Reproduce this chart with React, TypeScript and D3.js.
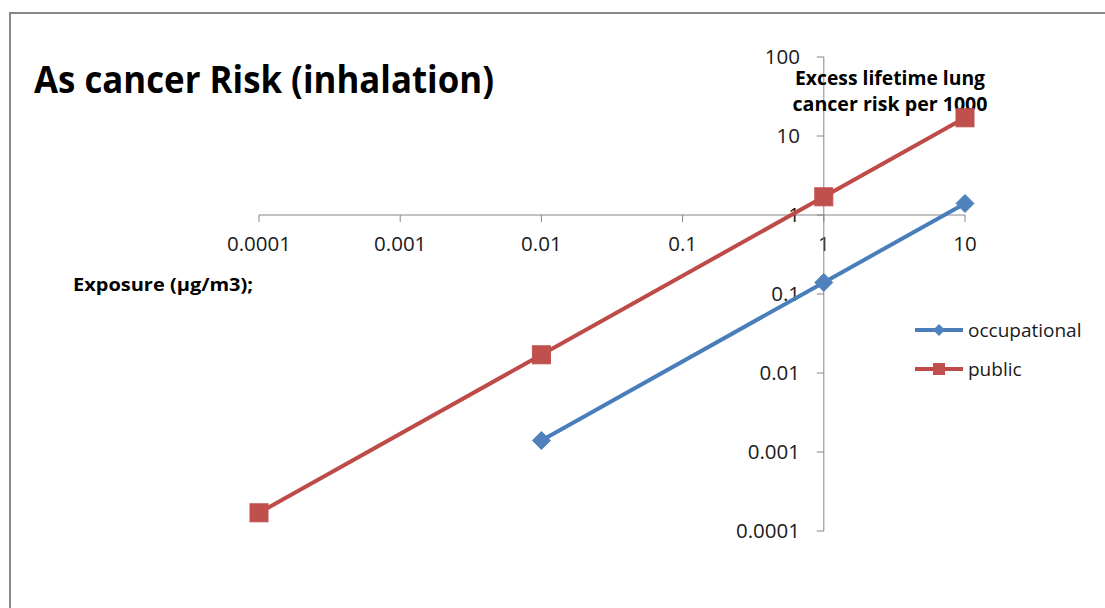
import React from 'react'
import * as d3 from 'd3'

// exposure (µg/m3) and excess lifetime lung cancer risk per 1000
const occupationalX = [0.01, 1, 10]
const occupationalY = [0.0014, 0.14, 1.4]
const publicX = [0.0001, 0.01, 1, 10]
const publicY = [0.00017, 0.017, 1.7, 17]

const xTicks = [0.0001, 0.001, 0.01, 0.1, 1, 10]
const yTicks = [0.0001, 0.001, 0.01, 0.1, 1, 10, 100]
const seriesNames = ['occupational', 'public']

const width = 1105
const height = 608
const font = '"Open Sans", "Liberation Sans", sans-serif'
const axisColor = '#868686'
const blue = '#4A7EBB'
const blueMarker = '#4F81BD'
const red = '#BE4B48'
const redMarker = '#C0504D'

export default function App() {
  const x = d3.scaleLog().domain([0.0001, 10]).range([259, 965])
  const y = d3.scaleLog().domain([0.0001, 100]).range([531, 57])

  const line = d3.line<[number, number]>()
    .x(d => x(d[0]))
    .y(d => y(d[1]))

  const occ: [number, number][] = occupationalX.map((v, i) => [v, occupationalY[i]])
  const pub: [number, number][] = publicX.map((v, i) => [v, publicY[i]])

  const x0 = x(1)
  const y0 = y(1)
  const fmt = (v: number) => String(+v.toPrecision(1))

  const diamond = (cx: number, cy: number, r: number) =>
    `M${cx},${cy - r}L${cx + r},${cy}L${cx},${cy + r}L${cx - r},${cy}Z`

  return (
    <svg width={width} height={height}
      style={{ position: 'absolute', left: 0, top: 0, background: '#fff' }}>
      <rect x={10} y={13} width={width} height={height} fill="#fff" stroke="#878787" strokeWidth={2} />

      <text x={34} y={93} fontFamily={font} fontWeight="bold" fontSize={38}
        textLength={460} lengthAdjust="spacingAndGlyphs" fill="#000">As cancer Risk (inhalation)</text>

      {/* x axis, drawn at y = 1 */}
      <g>
        <line x1={x(0.0001)} x2={x(10)} y1={y0} y2={y0} stroke={axisColor} />
        {xTicks.map(t => (
          <g key={'xt' + t}>
            <line x1={x(t)} x2={x(t)} y1={y0} y2={y0 + 7} stroke={axisColor} />
            <text x={x(t)} y={251} textAnchor="middle" fontFamily={font} fontSize={20.5} fill="#1a1a1a">{fmt(t)}</text>
          </g>
        ))}
      </g>

      {/* y axis, drawn at x = 1 */}
      <g>
        <line x1={x0} x2={x0} y1={y(0.0001)} y2={y(100)} stroke={axisColor} />
        {yTicks.map(t => (
          <g key={'yt' + t}>
            <line x1={x0 - 7} x2={x0} y1={y(t)} y2={y(t)} stroke={axisColor} />
            <text x={800} y={y(t)} dy="0.35em" textAnchor="end" fontFamily={font} fontSize={20.5} fill="#1a1a1a">{fmt(t)}</text>
          </g>
        ))}
      </g>

      <text x={73} y={291} fontFamily={font} fontWeight="bold" fontSize={18}
        textLength={180} lengthAdjust="spacingAndGlyphs" fill="#000">Exposure (µg/m3);</text>
      <text x={890} y={85} textAnchor="middle" fontFamily={font} fontWeight="bold" fontSize={19}
        textLength={190} lengthAdjust="spacingAndGlyphs" fill="#000">Excess lifetime lung</text>
      <text x={890} y={111} textAnchor="middle" fontFamily={font} fontWeight="bold" fontSize={19}
        textLength={195} lengthAdjust="spacingAndGlyphs" fill="#000">cancer risk per 1000</text>

      {/* series */}
      <path d={line(occ) ?? ''} fill="none" stroke={blue} strokeWidth={4} strokeLinejoin="round" />
      {occ.map(d => (
        <path key={'o' + d[0]} d={diamond(x(d[0]), y(d[1]), 9)} fill={blueMarker} stroke={blueMarker} strokeWidth={1} />
      ))}
      <path d={line(pub) ?? ''} fill="none" stroke={red} strokeWidth={4} strokeLinejoin="round" />
      {pub.map(d => (
        <rect key={'p' + d[0]} x={x(d[0]) - 9} y={y(d[1]) - 9} width={18} height={18} fill={redMarker} stroke={redMarker} strokeWidth={1} />
      ))}

      {/* legend */}
      <g>
        <line x1={915} x2={963} y1={330} y2={330} stroke={blue} strokeWidth={4} />
        <path d={diamond(939, 330, 6)} fill={blueMarker} />
        <text x={968} y={337} fontFamily={font} fontSize={19} fill="#1a1a1a">{seriesNames[0]}</text>
        <line x1={915} x2={963} y1={369} y2={369} stroke={red} strokeWidth={4} />
        <rect x={933} y={363} width={12} height={12} fill={redMarker} />
        <text x={968} y={376} fontFamily={font} fontSize={19} fill="#1a1a1a">{seriesNames[1]}</text>
      </g>
    </svg>
  )
}
